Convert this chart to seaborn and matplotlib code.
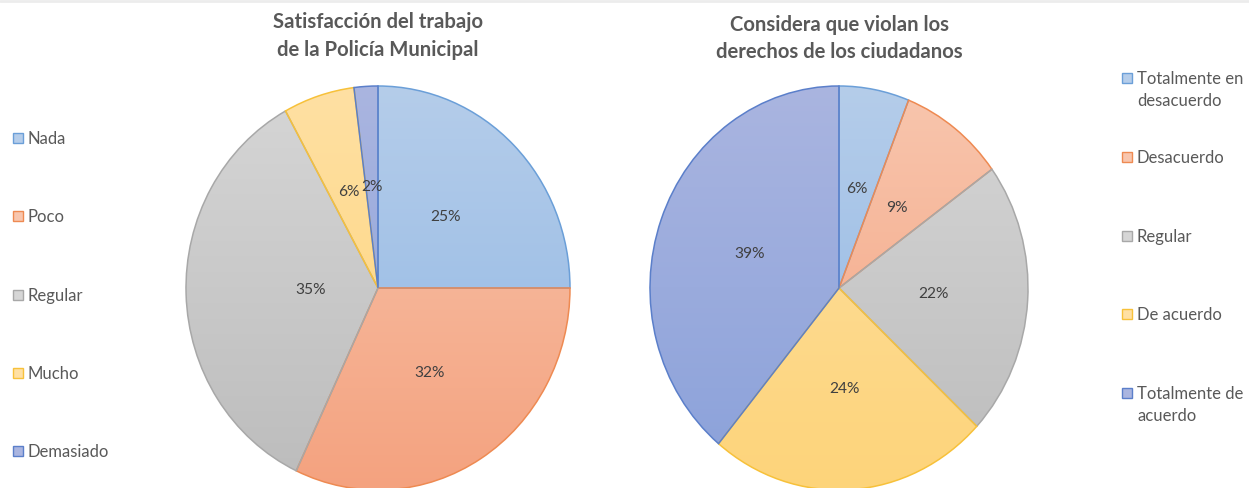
import numpy as np
import matplotlib
matplotlib.use("Agg")
import matplotlib.pyplot as plt
import seaborn as sns
from matplotlib.patches import Rectangle
from matplotlib.colors import LinearSegmentedColormap

# ── Data ─────────────────────────────────────────────────────────────────────
title_left = "Satisfacción del trabajo\nde la Policía Municipal"
labels_left = ["Nada", "Poco", "Regular", "Mucho", "Demasiado"]
values_left = [25, 32, 35, 6, 2]

title_right = "Considera que violan los\nderechos de los ciudadanos"
labels_right = ["Totalmente en\ndesacuerdo", "Desacuerdo", "Regular",
                "De acuerdo", "Totalmente de\nacuerdo"]
values_right = [6, 9, 22, 24, 39]

# ── Style ────────────────────────────────────────────────────────────────────
# (top colour, bottom colour, edge colour) per category, Excel-like gradient
FILLS = [
    ("#b5cdea", "#8fb6e4", "#6b9fd8"),
    ("#f8c6ae", "#f4a27f", "#ee8a52"),
    ("#d6d6d6", "#bcbcbc", "#a8a8a8"),
    ("#ffe0a3", "#fdd47a", "#f7c13a"),
    ("#aab5e0", "#8aa1da", "#5b7fca"),
]
TEXT_GRAY = "#595959"
PCT_GRAY = "#404040"

sns.set_theme(style="white")
plt.rcParams["font.family"] = ["Lato", "DejaVu Sans"]

W, H = 1249, 488
fig = plt.figure(figsize=(W / 100, H / 100), dpi=100)


def px_axes(x0, x1, y0, y1):
    # axes box given in pixel coords (y from top)
    return fig.add_axes([x0 / W, (H - y1) / H, (x1 - x0) / W, (y1 - y0) / H])


def gradient_pie(ax, values, pct_dist):
    wedges, _ = ax.pie(values, startangle=90, counterclock=False, radius=1,
                       wedgeprops=dict(linewidth=1.1), frame=False)
    ax.set_aspect("auto")
    ax.set_xlim(-1, 1)
    ax.set_ylim(-1, 1)
    grad = np.linspace(0, 1, 256).reshape(-1, 1)
    for w, (top, bot, edge) in zip(wedges, FILLS):
        cmap = LinearSegmentedColormap.from_list("g", [top, bot])
        im = ax.imshow(grad, cmap=cmap, extent=(-1, 1, -1, 1), origin="upper",
                       aspect="auto", zorder=1)
        im.set_clip_path(w)
        w.set_facecolor("none")
        w.set_edgecolor(edge)
        w.set_zorder(2)
    total = sum(values)
    for w, v, d in zip(wedges, values, pct_dist):
        ang = np.deg2rad((w.theta1 + w.theta2) / 2)
        ax.text(d * np.cos(ang), d * np.sin(ang), f"{round(100 * v / total)}%",
                ha="center", va="center", fontsize=11.2, color=PCT_GRAY, zorder=3)
    return wedges


def excel_legend(labels, x, y_first, step, fs=12):
    # Excel-style legend: evenly spaced markers, text hangs from first line
    for i, (lab, (top, bot, edge)) in enumerate(zip(labels, FILLS)):
        yc = y_first + i * step
        fig.add_artist(Rectangle((x / W, 1 - (yc + 5) / H), 10 / W, 10 / H,
                                 facecolor=top, edgecolor=edge, linewidth=1,
                                 transform=fig.transFigure))
        fig.text((x + 15) / W, 1 - (yc - 7) / H, lab, ha="left",
                 va="top", fontsize=fs, color=TEXT_GRAY, linespacing=1.45)


ax1 = px_axes(186, 570, 86, 490)
gradient_pie(ax1, values_left, [0.5, 0.5, 0.35, 0.5, 0.5])
ax2 = px_axes(650, 1028, 86, 490)
gradient_pie(ax2, values_right, [0.5] * 5)

fig.text(378 / W, 1 - 36 / H, title_left, ha="center", va="center",
         fontsize=14.6, fontweight="bold", color=TEXT_GRAY, linespacing=1.45)
fig.text(839 / W, 1 - 38.5 / H, title_right, ha="center", va="center",
         fontsize=14.6, fontweight="bold", color=TEXT_GRAY, linespacing=1.45)

excel_legend(labels_left, 13, 138, 78.25)
excel_legend(labels_right, 1122, 78, 78.75)

# thin grey strip along the top edge, as in the source screenshot
fig.add_artist(plt.Line2D([0, 1], [1 - 1 / H, 1 - 1 / H], color="#ececec",
                          linewidth=2, transform=fig.transFigure))

fig.savefig("out.png", dpi=100)
